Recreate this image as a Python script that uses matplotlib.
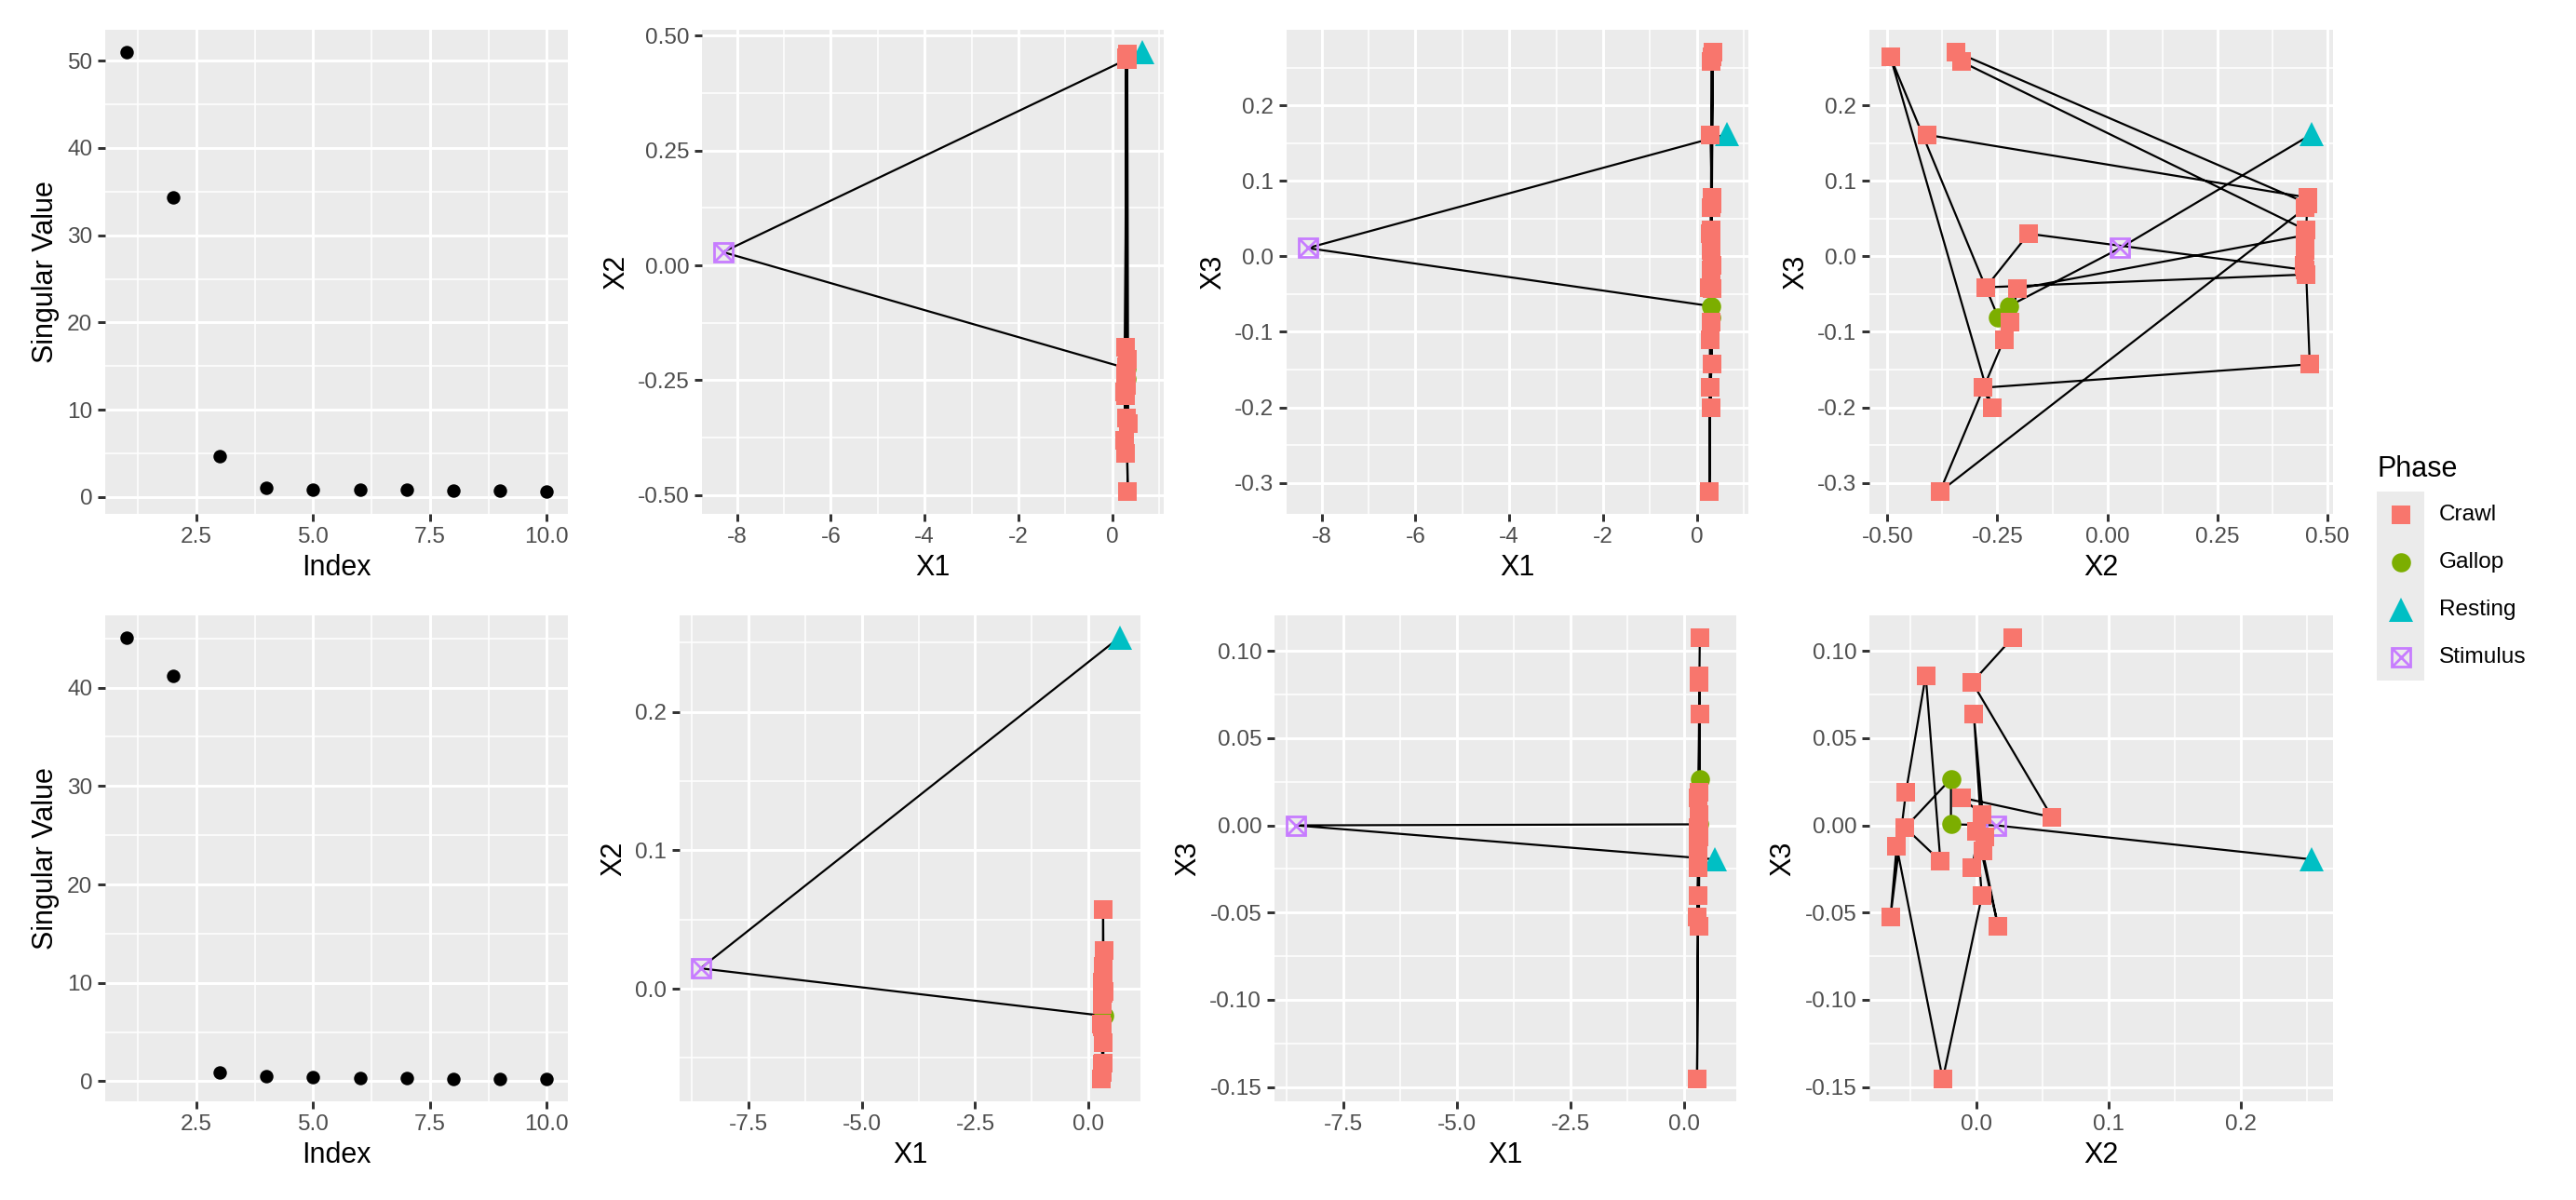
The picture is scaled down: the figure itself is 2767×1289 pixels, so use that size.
import matplotlib
matplotlib.use("Agg")
import matplotlib.pyplot as plt
import numpy as np

plt.rcParams['font.family'] = ['Liberation Sans', 'DejaVu Sans']
plt.rcParams['axes.unicode_minus'] = False

# singular values (scree plots)
sv_index = [1, 2, 3, 4, 5, 6, 7, 8, 9, 10]
sv_top = [51.0, 34.3, 4.7, 1.1, 0.9, 0.9, 0.8, 0.7, 0.7, 0.6]
sv_bottom = [45.1, 41.2, 0.9, 0.5, 0.4, 0.35, 0.3, 0.25, 0.2, 0.2]

# top row trajectory (in path order)
top_phase = ["Resting", "Stimulus", "Gallop", "Gallop"] + ["Crawl"] * 22
top_x1 = [0.65, -8.30, 0.31, 0.30, 0.33, 0.30, 0.28, 0.32, 0.30, 0.27, 0.29, 0.31, 0.33,
          0.30, 0.31, 0.34, 0.32, 0.30, 0.27, 0.28, 0.30, 0.32, 0.31, 0.30, 0.32, 0.29]
top_x2 = [0.465, 0.029, -0.224, -0.248, -0.493, -0.262, -0.283, 0.460, 0.452, -0.276,
          -0.179, 0.450, 0.448, 0.451, -0.332, -0.345, 0.455, 0.450, -0.381, -0.235,
          -0.221, -0.204, 0.449, 0.450, 0.455, -0.410]
top_x3 = [0.162, 0.011, -0.066, -0.081, 0.264, -0.201, -0.174, -0.143, -0.024, -0.041,
          0.030, -0.018, -0.012, 0.035, 0.258, 0.271, 0.070, 0.064, -0.312, -0.110,
          -0.087, -0.043, 0.028, 0.008, 0.078, 0.161]

# bottom row trajectory (in path order)
bot_phase = ["Resting", "Stimulus", "Gallop", "Gallop"] + ["Crawl"] * 19
bot_x1 = [0.68, -8.55, 0.33, 0.34, 0.31, 0.30, 0.33, 0.32, 0.29, 0.31, 0.28, 0.30,
          0.33, 0.32, 0.31, 0.34, 0.32, 0.30, 0.33, 0.31, 0.32, 0.33, 0.34]
bot_x2 = [0.2537, 0.0147, -0.0196, -0.0196, -0.0543, -0.0276, -0.0387, -0.0537, -0.0654,
          -0.0607, -0.0258, 0.0038, 0.0000, 0.0161, 0.0044, -0.0023, 0.0059, -0.0035,
          0.0038, -0.0117, 0.0569, -0.0035, 0.0273]
bot_x3 = [-0.0195, 0.0000, 0.0006, 0.0267, -0.0013, -0.0204, 0.0859, 0.0190, -0.0526,
          -0.0120, -0.1455, -0.0405, -0.0034, -0.0579, -0.0148, 0.0640, -0.0064, -0.0240,
          0.0064, 0.0159, 0.0047, 0.0820, 0.1077]

phases = ["Crawl", "Gallop", "Resting", "Stimulus"]
colors = {"Crawl": "#F8766D", "Gallop": "#7CAE00", "Resting": "#00BFC4", "Stimulus": "#C77CFF"}
markers = {"Crawl": ("s", 7.2), "Gallop": ("o", 7.4), "Resting": ("^", 9.5), "Stimulus": ("s", 7.0)}
draw_order = ["Resting", "Stimulus", "Gallop", "Crawl"]

W, H = 2767, 1289
fig = plt.figure(figsize=(W / 200, H / 200), dpi=200)


def rect(x0, x1, y0, y1):
    return [x0 / W, 1 - y1 / H, (x1 - x0) / W, (y1 - y0) / H]


def expand(vals):
    lo, hi = min(vals), max(vals)
    d = (hi - lo) * 0.05
    return lo - d, hi + d


def gg_style(ax, xt, yt, xfmt, yfmt, xlim, ylim):
    ax.set_facecolor('#EBEBEB')
    for s in ax.spines.values():
        s.set_visible(False)
    ax.set_xlim(xlim)
    ax.set_ylim(ylim)
    for axis, ticks, fmt, lim in ((ax.xaxis, xt, xfmt, xlim), (ax.yaxis, yt, yfmt, ylim)):
        axis.set_ticks(ticks)
        axis.set_ticklabels([fmt.format(v) for v in ticks])
        step = ticks[1] - ticks[0]
        minor = [t + step / 2 for t in [ticks[0] - step] + list(ticks)]
        minor = [m for m in minor if lim[0] <= m <= lim[1]]
        axis.set_ticks(minor, minor=True)
    ax.grid(which='major', color='white', lw=1.07)
    ax.grid(which='minor', color='white', lw=0.55)
    ax.set_axisbelow(True)
    ax.tick_params(which='minor', length=0)
    ax.tick_params(which='major', length=2.75, width=1.07, color='#333333',
                   labelsize=8.8, labelcolor='#4D4D4D', pad=2.2)


def scree(ax, vals, yt):
    ax.plot(sv_index, vals, 'o', color='black', ms=4.2, zorder=3)
    gg_style(ax, [2.5, 5.0, 7.5, 10.0], yt, "{:.1f}", "{:g}",
             expand(sv_index), expand(vals))
    ax.set_xlabel("Index", fontsize=11, labelpad=2.75)
    ax.set_ylabel("Singular Value", fontsize=11, labelpad=2.75)


def traj(ax, xs, ys, phase, xt, yt, xfmt, yfmt, xlab, ylab):
    ax.plot(xs, ys, '-', color='black', lw=0.8, zorder=2)
    for p in draw_order:
        px = [x for x, ph in zip(xs, phase) if ph == p]
        py = [y for y, ph in zip(ys, phase) if ph == p]
        m, ms = markers[p]
        if p == "Stimulus":
            ax.plot(px, py, 's', ms=ms, mfc='none', mec=colors[p], mew=1.0, zorder=3)
            ax.plot(px, py, 'x', ms=ms, mec=colors[p], mew=1.0, zorder=3)
        else:
            ax.plot(px, py, m, ms=ms, color=colors[p], mew=0, zorder=3)
    gg_style(ax, xt, yt, xfmt, yfmt, expand(xs), expand(ys))
    ax.set_xlabel(xlab, fontsize=11, labelpad=2.75)
    ax.set_ylabel(ylab, fontsize=11, labelpad=2.75)


# top row
ty0, ty1 = 32, 552
ax = fig.add_axes(rect(113, 610, ty0, ty1))
scree(ax, sv_top, [0, 10, 20, 30, 40, 50])
ax = fig.add_axes(rect(754, 1250, ty0, ty1))
traj(ax, top_x1, top_x2, top_phase, [-8, -6, -4, -2, 0], [-0.5, -0.25, 0, 0.25, 0.5],
     "{:g}", "{:.2f}", "X1", "X2")
ax = fig.add_axes(rect(1382, 1878, ty0, ty1))
traj(ax, top_x1, top_x3, top_phase, [-8, -6, -4, -2, 0], [-0.3, -0.2, -0.1, 0.0, 0.1, 0.2],
     "{:g}", "{:.1f}", "X1", "X3")
ax = fig.add_axes(rect(2008, 2506, ty0, ty1))
traj(ax, top_x2, top_x3, top_phase, [-0.5, -0.25, 0, 0.25, 0.5], [-0.3, -0.2, -0.1, 0.0, 0.1, 0.2],
     "{:.2f}", "{:.1f}", "X2", "X3")

# bottom row
by0, by1 = 661, 1183
ax = fig.add_axes(rect(113, 610, by0, by1))
scree(ax, sv_bottom, [0, 10, 20, 30, 40])
ax = fig.add_axes(rect(730, 1225, by0, by1))
traj(ax, bot_x1, bot_x2, bot_phase, [-7.5, -5.0, -2.5, 0.0], [0.0, 0.1, 0.2],
     "{:.1f}", "{:.1f}", "X1", "X2")
ax = fig.add_axes(rect(1369, 1865, by0, by1))
traj(ax, bot_x1, bot_x3, bot_phase, [-7.5, -5.0, -2.5, 0.0],
     [-0.15, -0.10, -0.05, 0.0, 0.05, 0.10], "{:.1f}", "{:.2f}", "X1", "X3")
ax = fig.add_axes(rect(2008, 2506, by0, by1))
traj(ax, bot_x2, bot_x3, bot_phase, [0.0, 0.1, 0.2],
     [-0.15, -0.10, -0.05, 0.0, 0.05, 0.10], "{:.1f}", "{:.2f}", "X2", "X3")

# legend
fig.text(2553 / W, 1 - 512 / H, "Phase", fontsize=11, ha='left', va='baseline')
lg = fig.add_axes(rect(2553, 2604, 528, 731))
lg.set_facecolor('#EBEBEB')
lg.set_xlim(0, 1)
lg.set_ylim(4, 0)
lg.set_xticks([])
lg.set_yticks([])
for s in lg.spines.values():
    s.set_visible(False)
for i, p in enumerate(phases):
    m, ms = markers[p]
    if p == "Stimulus":
        lg.plot([0.5], [i + 0.5], 's', ms=ms, mfc='none', mec=colors[p], mew=1.0)
        lg.plot([0.5], [i + 0.5], 'x', ms=ms, mec=colors[p], mew=1.0)
    else:
        lg.plot([0.5], [i + 0.5], m, ms=ms, color=colors[p], mew=0)
    fig.text(2620 / W, 1 - (528 + 50.75 * (i + 0.5)) / H, p, fontsize=8.8,
             ha='left', va='center')

fig.savefig("out.png", dpi=200)
